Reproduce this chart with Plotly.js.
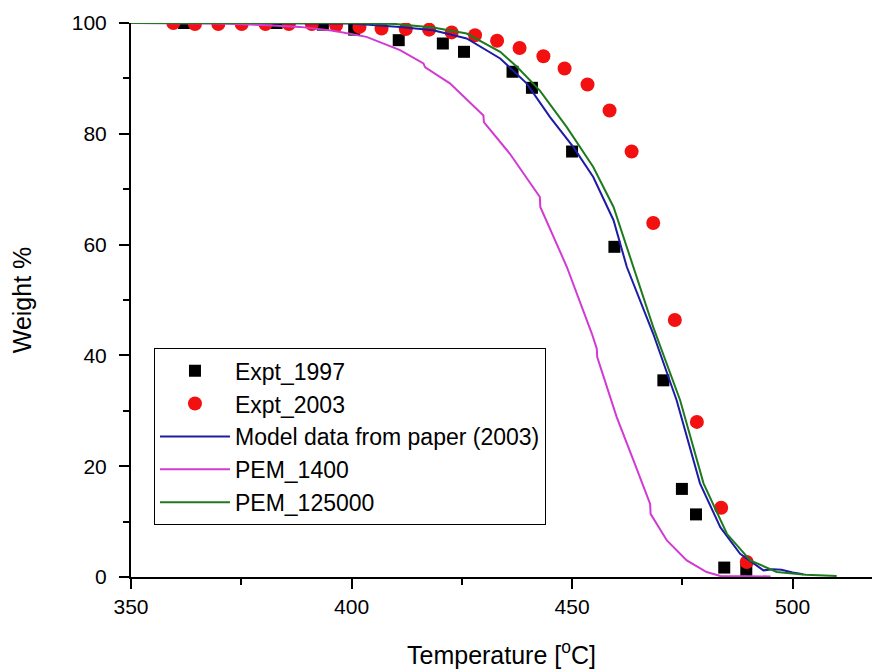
<!DOCTYPE html>
<html>
<head>
<meta charset="utf-8">
<script src="https://cdn.plot.ly/plotly-3.0.1.min.js"></script>
<style>html,body{margin:0;padding:0;background:#fff;}#chart{width:872px;height:671px;}</style>
</head>
<body>
<div id="chart"></div>
<script>
// Expt_1997 (black squares)
var expt1997T = [362, 383, 393.5, 400.6, 410.7, 420.7, 425.5, 436.5, 440.9, 450.0, 459.6, 470.7, 474.9, 478.1, 484.5, 489.5];
var expt1997W = [100, 100, 99.7, 98.8, 96.9, 96.3, 94.8, 91.2, 88.3, 76.8, 59.6, 35.5, 15.9, 11.3, 1.7, 1.3];

// Expt_2003 (red circles)
var expt2003T = [359.6, 364.5, 369.8, 375.1, 380.5, 385.8, 391.0, 396.5, 401.8, 406.8, 412.3, 417.6, 422.7, 428.0, 433.0, 438.1, 443.5, 448.3, 453.5, 458.5, 463.5, 468.4, 473.3, 478.3, 483.8, 489.6];
var expt2003W = [100, 99.8, 99.8, 99.8, 99.8, 99.8, 99.8, 99.6, 99.3, 99.0, 98.9, 98.8, 98.3, 97.8, 96.8, 95.5, 94.0, 91.8, 88.9, 84.2, 76.8, 63.9, 46.4, 28.0, 12.5, 2.7];

// Model data from paper (2003) (blue line)
var modelT = [350, 380, 400, 411, 418.5, 426.1, 433.7, 439.7, 445.0, 450.3, 454.8, 459.4, 462.4, 468.4, 473.7, 479.0, 483.6, 488.1, 493.4, 495.5, 497.5, 500.0, 502.4];
var modelW = [100, 100, 99.9, 99.3, 98.7, 97.2, 93.6, 89.1, 83.0, 77.6, 72.2, 64.4, 56.0, 43.9, 31.9, 16.9, 9.0, 4.2, 1.2, 1.4, 1.3, 0.8, 0.5];

// PEM_1400 (magenta line)
var pem1400T = [350, 370, 380.8, 388.3, 395.9, 403.4, 411.0, 416.3, 416.7, 422.3, 429.9, 430.0, 435.9, 442.7, 442.8, 448.8, 454.5, 455.6, 455.7, 460.1, 463.9, 467.7, 467.8, 471.5, 476.0, 480.5, 483.6, 490.0, 495.0];
var pem1400W = [100, 99.9, 99.6, 99.3, 98.6, 97.5, 95.1, 92.7, 92.0, 89.1, 83.3, 82.1, 76.4, 68.6, 66.8, 56.0, 43.9, 41.2, 39.7, 28.9, 21.1, 13.2, 11.4, 6.6, 3.0, 0.9, 0.2, 0.1, 0.1];

// PEM_125000 (green line)
var pem125000T = [350, 380, 400, 410, 418.5, 426.1, 433.7, 437.5, 442.7, 448.8, 454.8, 459.4, 463.9, 468.4, 474.5, 479.8, 485.1, 490.4, 496.4, 503.0, 510.0];
var pem125000W = [100, 100, 100, 99.8, 99.2, 98.1, 94.8, 92.1, 87.8, 81.2, 74.0, 66.8, 56.0, 45.1, 31.9, 16.9, 7.8, 3.0, 0.9, 0.4, 0.2];

var FONT = 'Arial, "Liberation Sans", sans-serif';

var traces = [
  {x: expt1997T, y: expt1997W, name: 'Expt_1997', type: 'scatter', mode: 'markers',
   marker: {symbol: 'square', size: 12, color: '#000000'}},
  {x: expt2003T, y: expt2003W, name: 'Expt_2003', type: 'scatter', mode: 'markers',
   marker: {symbol: 'circle', size: 14, color: '#f21010'}},
  {x: modelT, y: modelW, name: 'Model data from paper (2003)', type: 'scatter', mode: 'lines',
   line: {color: '#1c1ca6', width: 2}},
  {x: pem1400T, y: pem1400W, name: 'PEM_1400', type: 'scatter', mode: 'lines',
   line: {color: '#d23ad2', width: 2}},
  {x: pem125000T, y: pem125000W, name: 'PEM_125000', type: 'scatter', mode: 'lines',
   line: {color: '#1f7a1f', width: 2}}
];

var layout = {
  width: 872, height: 671,
  margin: {l: 131, r: 0, t: 23, b: 94},
  paper_bgcolor: '#ffffff', plot_bgcolor: '#ffffff',
  font: {family: FONT, color: '#000000', size: 20},
  showlegend: true,
  legend: {
    x: 0.031, y: 0.413, xanchor: 'left', yanchor: 'top',
    bgcolor: '#ffffff', bordercolor: '#000000', borderwidth: 1,
    font: {family: FONT, size: 23, color: '#000000'},
    itemwidth: 70
  },
  xaxis: {
    range: [350, 518], tick0: 350, dtick: 50, showgrid: false, zeroline: false,
    showline: true, linecolor: '#000000', linewidth: 2,
    ticks: 'outside', ticklen: 10, tickwidth: 2, tickcolor: '#000000',
    minor: {ticks: 'outside', ticklen: 6, tickwidth: 2, dtick: 25, tickcolor: '#000000', showgrid: false},
    tickfont: {family: FONT, size: 21, color: '#000000'},
    title: {text: 'Temperature [<sup>o</sup>C]', font: {family: FONT, size: 25, color: '#000000'}, standoff: 29}
  },
  yaxis: {
    range: [0, 100], tick0: 0, dtick: 20, showgrid: false, zeroline: false,
    showline: true, linecolor: '#000000', linewidth: 2,
    ticks: 'outside', ticklen: 10, tickwidth: 2, tickcolor: '#000000',
    minor: {ticks: 'outside', ticklen: 6, tickwidth: 2, dtick: 10, tickcolor: '#000000', showgrid: false},
    tickfont: {family: FONT, size: 21, color: '#000000'},
    ticklabelstandoff: 8,
    title: {text: 'Weight %', font: {family: FONT, size: 25, color: '#000000'}, standoff: 33}
  }
};

Plotly.newPlot('chart', traces, layout, {displayModeBar: false, staticPlot: true});
</script>
</body>
</html>
